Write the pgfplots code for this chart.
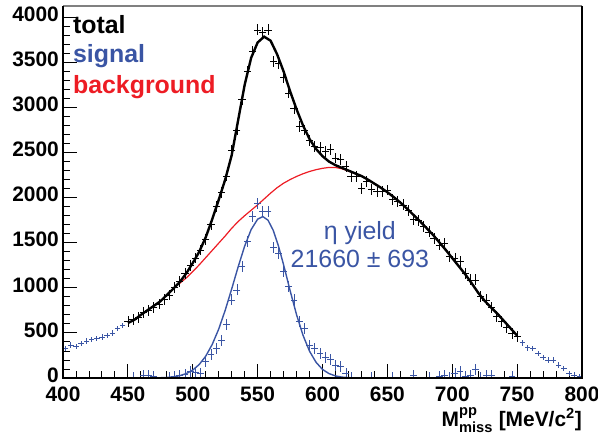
\documentclass[border=0pt]{standalone}
\usepackage{pgfplots}
\pgfplotsset{compat=1.18}
\usepackage{amsmath}
\usepackage{fontspec}
\setmainfont{Liberation Sans}
\usetikzlibrary{plotmarks}
\definecolor{sigblue}{RGB}{58,85,164}
\definecolor{bgred}{RGB}{237,28,36}
\begin{document}
\begin{tikzpicture}
\begin{axis}[
 scale only axis, width=519bp, height=372bp,
 xmin=400, xmax=800, ymin=0, ymax=4125,
 axis line style={draw=none},
 xtick={400,450,...,800}, ytick={0,500,...,4000},
 minor x tick num=4, minor y tick num=4,
 xtick pos=bottom, ytick pos=left, tick align=inside,
 major tick length=14bp, minor tick length=7bp,
 tick style={black, line width=0.9bp},
 ticklabel style={font=\bfseries\fontsize{21}{21}\selectfont, inner sep=1bp},
 yticklabel style={xshift=-3bp, yshift=3bp},
 xticklabel style={yshift=-8bp},
 /pgf/number format/assume math mode=true,
 /pgf/number format/1000 sep={},
 clip marker paths=true,
]
% background fit
\addplot[bgred, line width=1.2bp] table {
x y
490 1050
495 1110
500 1180
505 1255
510 1335
515 1415
520 1495
525 1575
530 1660
535 1735
540 1800
545 1860
550 1920
555 1985
560 2050
565 2110
570 2160
575 2200
580 2235
585 2265
590 2290
595 2310
600 2325
605 2335
610 2335
615 2320
620 2295
625 2268
630 2240
635 2200
640 2155
645 2110
650 2060
655 2005
660 1945
665 1880
670 1810
675 1740
680 1665
685 1590
690 1505
695 1420
700 1330
705 1240
710 1150
715 1050
720 945
725 855
730 780
735 710
740 630
745 550
750 470
};
% signal fit
\addplot[sigblue, line width=1.4bp] table {
x y
450 0
470 0
475 3
480 6
485 13
490 26
495 49
500 88
505 150
510 242
515 372
520 542
525 751
530 987
535 1233
540 1462
545 1646
550 1761
554 1790
558 1750
562 1638
566 1466
570 1256
575 971
580 702
585 473
590 297
595 175
600 95
605 49
610 23
615 10
620 4
625 1
630 0
750 0
};
% total fit
\addplot[black, line width=2.4bp] table {
x y
450 610
455 645
460 700
465 750
470 800
475 850
480 920
485 990
490 1065
495 1160
500 1275
505 1400
510 1560
515 1760
520 1975
525 2200
530 2470
535 2860
540 3250
545 3550
550 3720
555 3785
560 3740
565 3590
570 3400
575 3180
580 2980
585 2800
590 2650
595 2540
600 2460
605 2400
610 2360
615 2330
620 2300
625 2270
630 2240
635 2200
640 2155
645 2110
650 2060
655 2005
660 1945
665 1880
670 1810
675 1740
680 1665
685 1590
690 1505
695 1420
700 1330
705 1240
710 1150
715 1050
720 945
725 855
730 780
735 710
740 630
745 550
750 470
};
% total data in fit range
\addplot[black, only marks, mark=-, mark size=3.6bp, mark options={line width=0.7bp},
  error bars/.cd, y dir=both, y fixed=60, error mark=none,
  error bar style={line width=0.7bp}] table {
x y
450 625
454 650
458 670
462 725
466 745
470 780
474 820
478 875
482 920
486 1000
490 1070
494 1160
498 1250
502 1330
506 1420
510 1540
514 1700
518 1900
522 2060
526 2240
530 2520
534 2750
538 3090
542 3400
546 3620
550 3860
554 3830
558 3860
562 3510
566 3490
570 3330
574 3160
578 2990
582 2790
586 2750
590 2630
594 2570
598 2560
602 2510
606 2530
610 2440
614 2420
618 2345
622 2234
626 2234
630 2105
634 2179
638 2090
642 2070
646 2068
650 2085
654 1976
658 1957
662 1920
666 1860
670 1754
674 1750
678 1679
682 1620
686 1550
690 1476
694 1495
698 1346
702 1328
706 1291
710 1162
714 1088
718 1088
722 902
726 866
730 780
734 680
738 625
742 560
746 496
750 458
};
% signal data
\addplot[sigblue, only marks, mark=-, mark size=3.4bp, mark options={line width=0.7bp},
  error bars/.cd, y dir=both, y fixed=60, error mark=none,
  error bar style={line width=0.7bp}] table {
x y
454 5
462 30
466 30
470 20
482 5
486 20
490 25
494 40
498 70
502 60
506 50
510 180
514 260
518 330
522 420
526 590
530 866
534 977
538 1235
542 1513
546 1790
550 1939
554 1846
558 1846
562 1450
566 1383
570 1180
574 1013
578 866
582 625
586 551
590 366
594 330
598 274
602 230
606 205
610 140
614 126
618 52
622 10
638 10
654 5
670 33
682 10
690 20
694 33
698 10
702 52
706 70
710 20
714 33
718 96
722 10
726 33
730 33
746 15
};
% total data outside fit range
\addplot[sigblue, only marks, mark=-, mark size=2.8bp, mark options={line width=0.7bp},
  error bars/.cd, y dir=both, y fixed=30, error mark=none,
  error bar style={line width=0.7bp}] table {
x y
402 330
406 365
410 350
414 385
418 410
422 425
426 440
430 455
434 470
438 500
442 550
446 585
754 390
758 335
762 330
766 270
770 228
774 200
778 198
782 144
786 105
790 52
794 33
798 15
};
\node[anchor=base west, inner sep=0, text=black, font=\bfseries\fontsize{25}{25}\selectfont]
  at (axis description cs:0.019,0.925) {total};
\node[anchor=base west, inner sep=0, text=sigblue, font=\bfseries\fontsize{25}{25}\selectfont]
  at (axis description cs:0.019,0.847) {signal};
\node[anchor=base west, inner sep=0, text=bgred, font=\bfseries\fontsize{25}{25}\selectfont]
  at (axis description cs:0.019,0.766) {background};
\node[anchor=base, inner sep=0, text=sigblue, font=\fontsize{25}{25}\selectfont]
  at (axis description cs:0.572,0.371) {η yield};
\node[anchor=base, inner sep=0, text=sigblue, font=\fontsize{25}{25}\selectfont]
  at (axis description cs:0.572,0.296) {21660 ± 693};
\coordinate (ll) at (rel axis cs:0,0);
\coordinate (ur) at (rel axis cs:1,1);
\coordinate (lr) at (rel axis cs:1,0);
\coordinate (ul) at (rel axis cs:0,1);
\end{axis}
\draw[gray, line width=1.2bp] (ul) -- (ur);
\draw[black, line width=1.8bp] (ul) -- (ll) -- (lr) -- (ur);
\node[anchor=base east, inner sep=0, font=\bfseries\fontsize{21}{21}\selectfont]
  at ([yshift=-48bp]lr) {M$^{\text{pp}}_{\text{miss}}$ [MeV/c$^{\text{2}}$]};
\pgfresetboundingbox
\path ([shift={(-63bp,-58bp)}]ll) rectangle ([shift={(16bp,6bp)}]ur);
\end{tikzpicture}
\end{document}
